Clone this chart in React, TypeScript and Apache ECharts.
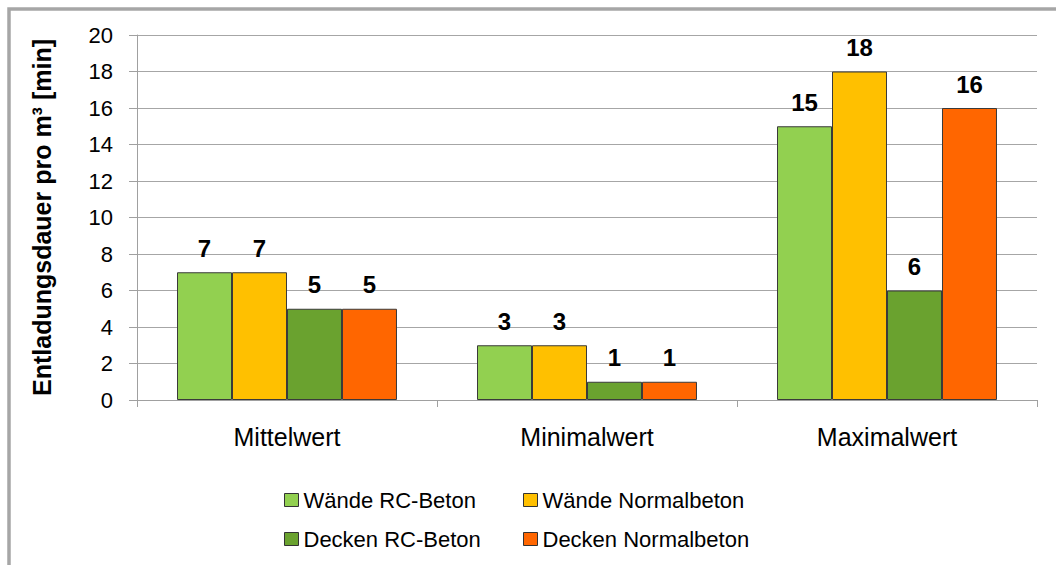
import React, { useEffect, useRef } from "react";
import * as echarts from "echarts";

const categories = ["Mittelwert", "Minimalwert", "Maximalwert"];
const seriesNames = ["Wände RC-Beton", "Wände Normalbeton", "Decken RC-Beton", "Decken Normalbeton"];
const waendeRC = [7, 3, 15];
const waendeNormal = [7, 3, 18];
const deckenRC = [5, 1, 6];
const deckenNormal = [5, 1, 16];
const colors = ["#92D050", "#FFC000", "#6AA22F", "#FF6600"];
const yAxisTitle = "Entladungsdauer pro m³ [min]";

const FONT = "'Liberation Sans', Arial, sans-serif";

export default function App() {
  const ref = useRef<HTMLDivElement>(null);
  useEffect(() => {
    if (!ref.current) return;
    const chart = echarts.init(ref.current, null, { renderer: "svg" });
    const values = [waendeRC, waendeNormal, deckenRC, deckenNormal];
    const legendCommon = {
      orient: "vertical",
      top: 489,
      padding: 0,
      icon: "rect",
      itemWidth: 14,
      itemHeight: 13,
      itemGap: 17,
      textStyle: { fontSize: 22, color: "#000", fontFamily: FONT, lineHeight: 20 },
      itemStyle: { borderColor: "#333", borderWidth: 1 },
    };
    chart.setOption({
      animation: false,
      backgroundColor: "#ffffff",
      textStyle: { fontFamily: FONT },
      graphic: [
        {
          type: "rect",
          shape: { x: 9, y: 9, width: 1200, height: 700 },
          style: { fill: "none", stroke: "#a6a6a6", lineWidth: 3.5 },
          silent: true,
        },
      ],
      grid: { left: 137, top: 35, right: 19, bottom: 165, containLabel: false },
      legend: [
        { ...legendCommon, left: 284, data: [seriesNames[0], seriesNames[2]] },
        { ...legendCommon, left: 523, data: [seriesNames[1], seriesNames[3]] },
      ],
      xAxis: {
        type: "category",
        data: categories,
        axisLine: { show: true, lineStyle: { color: "#a0a0a0", width: 1 } },
        axisTick: { show: true, length: 7, lineStyle: { color: "#a0a0a0" } },
        axisLabel: { fontSize: 25, color: "#000", margin: 24, fontFamily: FONT },
      },
      yAxis: {
        type: "value",
        min: 0,
        max: 20,
        interval: 2,
        name: yAxisTitle,
        nameLocation: "middle",
        nameGap: 83,
        nameTextStyle: { fontSize: 25, fontWeight: "bold", color: "#000", fontFamily: FONT },
        axisLine: { show: true, lineStyle: { color: "#a0a0a0", width: 1 } },
        axisTick: { show: true, length: 8, inside: false, lineStyle: { color: "#a0a0a0" } },
        axisLabel: { fontSize: 22, color: "#000", margin: 24, fontFamily: FONT },
        splitLine: { show: true, lineStyle: { color: "#a6a6a6", width: 1 } },
      },
      series: seriesNames.map((name, i) => ({
        name,
        type: "bar",
        data: values[i],
        barGap: "0%",
        barCategoryGap: "26.67%",
        itemStyle: { color: colors[i], borderColor: "#3a3a3a", borderWidth: 1 },
        label: {
          show: true,
          position: "top",
          distance: 12,
          fontSize: 24,
          fontWeight: "bold",
          color: "#000",
          fontFamily: FONT,
        },
      })),
    });
    return () => chart.dispose();
  }, []);
  return (
    <div
      ref={ref}
      style={{ position: "fixed", left: 0, top: 0, width: 1056, height: 565 }}
    />
  );
}
